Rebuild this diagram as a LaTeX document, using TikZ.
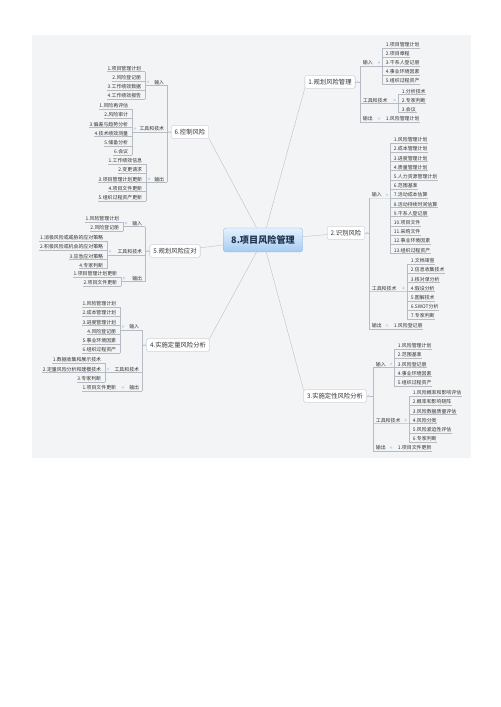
\documentclass[tikz,border=0pt]{standalone}
\usepackage{fontspec}
\setmainfont{Noto Sans CJK SC}
\usepackage{tikz}
\usetikzlibrary{positioning}
\definecolor{Ink}{HTML}{333333}
\definecolor{Wire}{HTML}{B7BCC4}
\definecolor{Rim}{HTML}{B5B8BD}
\definecolor{Paper}{HTML}{F3F4F6}
\definecolor{Knob}{HTML}{C6DAF2}
\definecolor{SkyTop}{HTML}{E6F1FD}
\definecolor{SkyBot}{HTML}{A5CBF2}
\definecolor{SkyRim}{HTML}{86B0DE}
\definecolor{HubInk}{HTML}{1F3550}

\begin{document}
\begin{tikzpicture}[x=0.05cm,y=-0.05cm,
    link/.style={Wire,line width=0.5pt},
    leaf/.style={text=Ink,inner xsep=1pt,inner ysep=1pt,font=\fontsize{7}{8}\selectfont},
    topic/.style={draw=Rim,fill=white,rounded corners=2pt,text=Ink,inner xsep=5pt,minimum height=18pt,font=\fontsize{9}{11}\selectfont},
    knob/.style={circle,fill=Knob,inner sep=0pt,minimum size=4pt}]
  \useasboundingbox (0,0) rectangle (500,707);
  \fill[Paper] (32,35) rectangle (471,458);

  \node[draw=SkyRim,top color=SkyTop,bottom color=SkyBot,rounded corners=4pt,minimum width=113pt,minimum height=34pt,text=HubInk,font=\bfseries\fontsize{13}{15}\selectfont] (hub) at (263,240) {8.项目风险管理};

  % 1.规划风险管理
  \node[topic] (t1) at (330,82) {1.规划风险管理};
  \draw[link] (hub) -- (t1.south west);
  \coordinate (t1j) at (360,82);
  \coordinate (t1a) at (360,66);
  \coordinate (t1b) at (360,103.5);
  \coordinate (t1c) at (360,122);
  \draw[link] (t1) -- (t1j);
  \node[knob,right=0.6pt of t1] (t1k) {};
  \draw[link] (t1a) -- (t1c);
  \node[leaf,anchor=south west] (t1in) at (362,66) {输入};
  \foreach \t [count=\i] in {1.项目管理计划,2.项目章程,3.干系人登记册,4.事业环境因素,5.组织过程资产}{
    \node[leaf,anchor=south west] (t1in\i) at (385,{39+9*\i}) {\t};
    \coordinate (t1inb\i) at (382,{39+9*\i});
    \draw[link] (t1inb\i) -- (t1in\i.south east);
  }
  \draw[link] (t1inb1) -- (t1inb5);
  \draw[link] (t1a) -- (t1inb3);
  \node[knob] (t1ink) at (379,62.5) {};
  \node[leaf,anchor=south west] (t1tl) at (362,103.5) {工具和技术};
  \foreach \t [count=\i] in {1.分析技术,2.专家判断,3.会议}{
    \node[leaf,anchor=south west] (t1tl\i) at (401,{85.5+9*\i}) {\t};
    \coordinate (t1tlb\i) at (398,{85.5+9*\i});
    \draw[link] (t1tlb\i) -- (t1tl\i.south east);
  }
  \draw[link] (t1tlb1) -- (t1tlb3);
  \draw[link] (t1b) -- (t1tlb2);
  \node[knob] (t1tlk) at (394.5,100) {};
  \node[leaf,anchor=south west] (t1out) at (362,122) {输出};
  \node[leaf,anchor=south west] (t1out1) at (385,122) {1.风险管理计划};
  \draw[link] (t1c) -- (t1out1.south east);
  \node[knob] (t1outk) at (379,118.5) {};

  % 2.识别风险
  \node[topic] (t2) at (346,233) {2.识别风险};
  \draw[link] (hub) -- (t2);
  \coordinate (t2j) at (369,233);
  \coordinate (t2a) at (369,198.2);
  \coordinate (t2b) at (369,291.6);
  \coordinate (t2c) at (369,329);
  \draw[link] (t2) -- (t2j);
  \node[knob,right=0.6pt of t2] (t2k) {};
  \draw[link] (t2a) -- (t2c);
  \node[leaf,anchor=south west] (t2in) at (371,198.2) {输入};
  \foreach \t [count=\i] in {1.风险管理计划,2.成本管理计划,3.进度管理计划,4.质量管理计划,5.人力资源管理计划,6.范围基准,7.活动成本估算,8.活动持续时间估算,9.干系人登记册,10.项目文件,11.采购文件,12.事业环境因素,13.组织过程资产}{
    \node[leaf,anchor=south west] (t2in\i) at (393,{133.8+9.2*\i}) {\t};
    \coordinate (t2inb\i) at (390,{133.8+9.2*\i});
    \draw[link] (t2inb\i) -- (t2in\i.south east);
  }
  \draw[link] (t2inb1) -- (t2inb13);
  \draw[link] (t2a) -- (t2inb7);
  \node[knob] (t2ink) at (387,194.7) {};
  \node[leaf,anchor=south west] (t2tl) at (371,291.6) {工具和技术};
  \foreach \t [count=\i] in {1.文档审查,2.信息收集技术,3.核对单分析,4.假设分析,5.图解技术,6.SWOT分析,7.专家判断}{
    \node[leaf,anchor=south west] (t2tl\i) at (410,{254.8+9.2*\i}) {\t};
    \coordinate (t2tlb\i) at (407,{254.8+9.2*\i});
    \draw[link] (t2tlb\i) -- (t2tl\i.south east);
  }
  \draw[link] (t2tlb1) -- (t2tlb7);
  \draw[link] (t2b) -- (t2tlb4);
  \node[knob] (t2tlk) at (403.5,288.1) {};
  \node[leaf,anchor=south west] (t2out) at (371,329) {输出};
  \node[leaf,anchor=south west] (t2out1) at (393,329) {1.风险登记册};
  \draw[link] (t2c) -- (t2out1.south east);
  \node[knob] (t2outk) at (387,325.5) {};

  % 3.实施定性风险分析
  \node[topic] (t3) at (335,396) {3.实施定性风险分析};
  \draw[link] (hub) -- (t3.north west);
  \coordinate (t3j) at (373,396);
  \coordinate (t3a) at (373,367.4);
  \coordinate (t3b) at (373,423.6);
  \coordinate (t3c) at (373,451);
  \draw[link] (t3) -- (t3j);
  \node[knob,right=0.6pt of t3] (t3k) {};
  \draw[link] (t3a) -- (t3c);
  \node[leaf,anchor=south west] (t3in) at (375,367.4) {输入};
  \foreach \t [count=\i] in {1.风险管理计划,2.范围基准,3.风险登记册,4.事业环境因素,5.组织过程资产}{
    \node[leaf,anchor=south west] (t3in\i) at (397,{339.8+9.2*\i}) {\t};
    \coordinate (t3inb\i) at (394,{339.8+9.2*\i});
    \draw[link] (t3inb\i) -- (t3in\i.south east);
  }
  \draw[link] (t3inb1) -- (t3inb5);
  \draw[link] (t3a) -- (t3inb3);
  \node[knob] (t3ink) at (391,363.9) {};
  \node[leaf,anchor=south west] (t3tl) at (375,423.6) {工具和技术};
  \foreach \t [count=\i] in {1.风险概率和影响评估,2.概率和影响矩阵,3.风险数据质量评估,4.风险分类,5.风险紧迫性评估,6.专家判断}{
    \node[leaf,anchor=south west] (t3tl\i) at (412,{386.8+9.2*\i}) {\t};
    \coordinate (t3tlb\i) at (409,{386.8+9.2*\i});
    \draw[link] (t3tlb\i) -- (t3tl\i.south east);
  }
  \draw[link] (t3tlb1) -- (t3tlb6);
  \draw[link] (t3b) -- (t3tlb4);
  \node[knob] (t3tlk) at (405.5,420.1) {};
  \node[leaf,anchor=south west] (t3out) at (375,451) {输出};
  \node[leaf,anchor=south west] (t3out1) at (397,451) {1.项目文件更新};
  \draw[link] (t3c) -- (t3out1.south east);
  \node[knob] (t3outk) at (391,447.5) {};

  % 6.控制风险
  \node[topic] (t6) at (190,132) {6.控制风险};
  \draw[link] (hub) -- (t6.south east);
  \coordinate (t6j) at (167,132);
  \coordinate (t6a) at (167,85.3);
  \coordinate (t6c) at (167,182.4);
  \draw[link] (t6) -- (t6j);
  \node[knob,left=0.6pt of t6] (t6k) {};
  \draw[link] (t6a) -- (t6c);
  \node[leaf,anchor=south east] (t6in) at (165,85.3) {输入};
  \foreach \t [count=\i] in {1.项目管理计划,2.风险登记册,3.工作绩效数据,4.工作绩效报告}{
    \node[leaf,anchor=south east] (t6in\i) at (142,{62.3+9.2*\i}) {\t};
    \coordinate (t6inb\i) at (145,{62.3+9.2*\i});
    \draw[link] (t6inb\i) -- (t6in\i.south west);
  }
  \coordinate (t6ine) at (145,85.3);
  \draw[link] (t6inb1) -- (t6inb4);
  \draw[link] (t6a) -- (t6ine);
  \node[knob] (t6ink) at (148,81.8) {};
  \node[leaf,anchor=south east] (t6tl) at (165,132) {工具和技术};
  \foreach \t [count=\i] in {1.风险再评估,2.风险审计,3.偏差与趋势分析,4.技术绩效测量,5.储备分析,6.会议}{
    \node[leaf,anchor=south east] (t6tl\i) at (129,{99.8+9.2*\i}) {\t};
    \coordinate (t6tlb\i) at (132,{99.8+9.2*\i});
    \draw[link] (t6tlb\i) -- (t6tl\i.south west);
  }
  \coordinate (t6tle) at (132,132);
  \draw[link] (t6tlb1) -- (t6tlb6);
  \draw[link] (t6j) -- (t6tle);
  \node[knob] (t6tlk) at (135,128.5) {};
  \node[leaf,anchor=south east] (t6out) at (165,182.4) {输出};
  \foreach \t [count=\i] in {1.工作绩效信息,2.变更请求,3.项目管理计划更新,4.项目文件更新,5.组织过程资产更新}{
    \node[leaf,anchor=south east] (t6out\i) at (143,{154.8+9.2*\i}) {\t};
    \coordinate (t6outb\i) at (146,{154.8+9.2*\i});
    \draw[link] (t6outb\i) -- (t6out\i.south west);
  }
  \draw[link] (t6outb1) -- (t6outb5);
  \draw[link] (t6c) -- (t6outb3);
  \node[knob] (t6outk) at (149,178.9) {};

  % 5.规划风险应对
  \node[topic] (t5) at (175,251) {5.规划风险应对};
  \draw[link] (hub) -- (t5);
  \coordinate (t5j) at (145,251);
  \coordinate (t5a) at (145,226.6);
  \coordinate (t5b) at (145,254.8);
  \coordinate (t5c) at (145,281.6);
  \draw[link] (t5) -- (t5j);
  \node[knob,left=0.6pt of t5] (t5k) {};
  \draw[link] (t5a) -- (t5c);
  \node[leaf,anchor=south east] (t5in) at (143,226.6) {输入};
  \foreach \t [count=\i] in {1.风险管理计划,2.风险登记册}{
    \node[leaf,anchor=south east] (t5in\i) at (120,{212.8+9.2*\i}) {\t};
    \coordinate (t5inb\i) at (123,{212.8+9.2*\i});
    \draw[link] (t5inb\i) -- (t5in\i.south west);
  }
  \coordinate (t5ine) at (123,226.6);
  \draw[link] (t5inb1) -- (t5inb2);
  \draw[link] (t5a) -- (t5ine);
  \node[knob] (t5ink) at (126,223.1) {};
  \node[leaf,anchor=south east] (t5tl) at (143,254.8) {工具和技术};
  \foreach \t [count=\i] in {1.消极风险或威胁的应对策略,2.积极风险或机会的应对策略,3.应急应对策略,4.专家判断}{
    \node[leaf,anchor=south east] (t5tl\i) at (104,{231.8+9.2*\i}) {\t};
    \coordinate (t5tlb\i) at (107,{231.8+9.2*\i});
    \draw[link] (t5tlb\i) -- (t5tl\i.south west);
  }
  \coordinate (t5tle) at (107,254.8);
  \draw[link] (t5tlb1) -- (t5tlb4);
  \draw[link] (t5b) -- (t5tle);
  \node[knob] (t5tlk) at (110,251.3) {};
  \node[leaf,anchor=south east] (t5out) at (143,281.6) {输出};
  \foreach \t [count=\i] in {1.项目管理计划更新,2.项目文件更新}{
    \node[leaf,anchor=south east] (t5out\i) at (118,{267.8+9.2*\i}) {\t};
    \coordinate (t5outb\i) at (121,{267.8+9.2*\i});
    \draw[link] (t5outb\i) -- (t5out\i.south west);
  }
  \coordinate (t5oute) at (121,281.6);
  \draw[link] (t5outb1) -- (t5outb2);
  \draw[link] (t5c) -- (t5oute);
  \node[knob] (t5outk) at (124,278.1) {};

  % 4.实施定量风险分析
  \node[topic] (t4) at (178,345) {4.实施定量风险分析};
  \draw[link] (hub) -- (t4.north east);
  \coordinate (t4j) at (142,345);
  \coordinate (t4a) at (142,330);
  \coordinate (t4b) at (142,372.5);
  \coordinate (t4c) at (142,391);
  \draw[link] (t4) -- (t4j);
  \node[knob,left=0.6pt of t4] (t4k) {};
  \draw[link] (t4a) -- (t4c);
  \node[leaf,anchor=south east] (t4in) at (140,330) {输入};
  \foreach \t [count=\i] in {1.风险管理计划,2.成本管理计划,3.进度管理计划,4.风险登记册,5.事业环境因素,6.组织过程资产}{
    \node[leaf,anchor=south east] (t4in\i) at (117,{297.8+9.2*\i}) {\t};
    \coordinate (t4inb\i) at (120,{297.8+9.2*\i});
    \draw[link] (t4inb\i) -- (t4in\i.south west);
  }
  \coordinate (t4ine) at (120,330);
  \draw[link] (t4inb1) -- (t4inb6);
  \draw[link] (t4a) -- (t4ine);
  \node[knob] (t4ink) at (123,326.5) {};
  \node[leaf,anchor=south east] (t4tl) at (140,372.5) {工具和技术};
  \foreach \t [count=\i] in {1.数据收集和展示技术,2.定量风险分析和建模技术,3.专家判断}{
    \node[leaf,anchor=south east] (t4tl\i) at (102,{353.5+9.5*\i}) {\t};
    \coordinate (t4tlb\i) at (105,{353.5+9.5*\i});
    \draw[link] (t4tlb\i) -- (t4tl\i.south west);
  }
  \draw[link] (t4tlb1) -- (t4tlb3);
  \draw[link] (t4b) -- (t4tlb2);
  \node[knob] (t4tlk) at (108,369) {};
  \node[leaf,anchor=south east] (t4out) at (140,391) {输出};
  \node[leaf,anchor=south east] (t4out1) at (117,391) {1.项目文件更新};
  \draw[link] (t4c) -- (t4out1.south west);
  \node[knob] (t4outk) at (123,387.5) {};
\end{tikzpicture}
\end{document}
